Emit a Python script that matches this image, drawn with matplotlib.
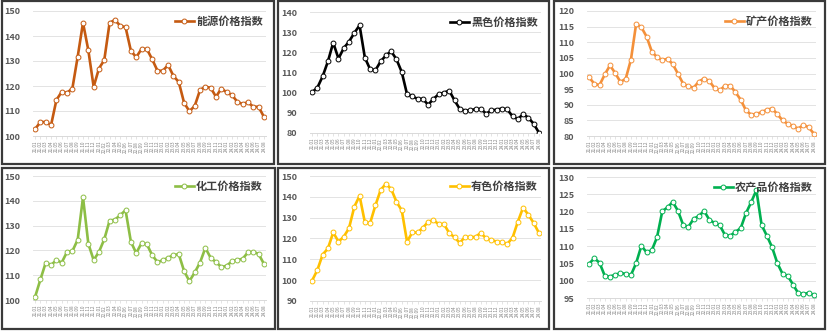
import matplotlib.pyplot as plt
from matplotlib.patches import Rectangle

plt.rcParams["font.family"] = ["Noto Sans CJK SC", "DejaVu Sans"]

# monthly labels 21.01 .. 24.08
months = [f"{y}.{m:02d}" for y in (21, 22, 23) for m in range(1, 13)] + \
         [f"24.{m:02d}" for m in range(1, 9)]

energy = [102.8, 105.6, 105.6, 104.4, 114.4, 117.7, 117.3, 119.0, 131.7, 145.3,
          134.3, 119.7, 127.0, 130.4, 145.3, 146.4, 144.1, 143.5, 134.1, 131.5,
          134.8, 134.8, 130.7, 126.1, 126.1, 128.4, 124.0, 121.6, 113.3, 109.9,
          112.0, 118.4, 119.7, 119.3, 115.7, 119.0, 117.5, 116.4, 113.7, 112.8,
          113.5, 111.7, 111.7, 107.7]

ferrous = [100.2, 102.5, 108.1, 115.5, 124.8, 116.9, 122.1, 125.3, 129.6, 133.4,
           117.4, 111.6, 111.1, 115.5, 118.5, 120.5, 116.5, 110.2, 99.2, 98.2,
           96.9, 96.9, 94.0, 96.9, 99.2, 100.0, 101.0, 96.2, 91.9, 91.1,
           91.2, 91.9, 91.9, 89.6, 91.2, 91.6, 92.1, 91.7, 88.3, 86.9,
           89.3, 87.6, 84.6, 80.2]

minerals = [98.8, 96.7, 96.3, 99.7, 102.6, 100.1, 97.3, 98.3, 104.4, 115.9,
            114.8, 111.8, 107.0, 105.2, 104.3, 104.7, 103.0, 99.9, 96.7, 95.9,
            95.5, 97.4, 98.4, 97.6, 95.3, 94.6, 96.1, 96.1, 94.0, 91.6,
            88.2, 86.8, 87.1, 87.6, 88.4, 88.8, 87.0, 85.0, 83.9, 83.1,
            82.4, 83.5, 82.8, 80.7]

chemical = [101.3, 108.3, 115.1, 114.1, 116.1, 115.1, 119.4, 119.7, 124.3, 141.4,
            122.7, 116.1, 119.4, 124.5, 132.0, 132.4, 134.2, 136.2, 123.5, 118.9,
            122.9, 122.5, 118.1, 115.3, 116.0, 117.0, 118.1, 118.5, 111.7, 107.6,
            111.1, 115.1, 121.0, 117.0, 115.3, 113.3, 113.8, 115.6, 116.2, 116.6,
            119.2, 119.4, 118.6, 114.6]

nonferrous = [99.8, 104.9, 112.3, 115.2, 122.9, 118.5, 120.8, 125.0, 135.2, 140.5,
              127.8, 127.4, 135.9, 143.3, 146.3, 143.7, 137.6, 133.5, 118.5, 122.9,
              122.9, 125.1, 128.0, 128.8, 126.9, 126.9, 122.6, 120.6, 117.9, 120.8,
              120.6, 120.8, 122.7, 120.0, 119.3, 118.5, 118.2, 117.4, 120.3, 128.0,
              134.8, 131.4, 127.5, 122.7]

agri = [104.9, 106.5, 105.2, 101.4, 101.2, 101.7, 102.2, 102.0, 101.6, 105.1,
        110.1, 108.2, 108.8, 112.6, 120.1, 121.2, 122.8, 120.2, 116.1, 115.6,
        117.9, 118.7, 120.2, 117.6, 116.7, 116.0, 113.2, 113.0, 114.1, 115.2,
        119.5, 122.7, 126.2, 116.1, 113.0, 109.7, 105.1, 102.0, 101.4, 98.9,
        96.4, 96.1, 96.5, 95.8]

W, H = 831, 334

# (name, values, colour, ymin, ymax, ystep, axes box in pixels: left, top, right, bottom)
panels = [
    ("能源价格指数", energy, "#C55A11", 100, 150, 10, (33, 11, 266, 136)),
    ("黑色价格指数", ferrous, "#000000", 80, 140, 10, (310, 12, 541, 133)),
    ("矿产价格指数", minerals, "#F4903A", 80, 120, 5, (587, 11, 816, 136)),
    ("化工价格指数", chemical, "#8DBE45", 100, 150, 10, (33, 176, 266, 300)),
    ("有色价格指数", nonferrous, "#FFC000", 90, 150, 10, (310, 176, 541, 301)),
    ("农产品价格指数", agri, "#00B050", 95, 130, 5, (587, 177, 816, 298)),
]

# outer frames around each chart
frames = [(2, 1, 274, 164), (278, 1, 549, 164), (554, 1, 825, 164),
          (2, 168, 275, 329), (278, 168, 549, 329), (554, 168, 825, 329)]

fig = plt.figure(figsize=(W / 100, H / 100), dpi=100)
fig.patch.set_facecolor("white")

for x0, y0, x1, y1 in frames:
    fig.patches.append(Rectangle((x0 / W, 1 - y1 / H), (x1 - x0) / W, (y1 - y0) / H,
                                 transform=fig.transFigure, fill=False,
                                 edgecolor="#3A3A3A", linewidth=1.6))

xs = list(range(len(months)))

for name, vals, color, ymin, ymax, ystep, (l, t, r, b) in panels:
    ax = fig.add_axes([l / W, 1 - b / H, (r - l) / W, (b - t) / H])
    ax.plot(xs, vals, color=color, linewidth=1.9, marker="o", markersize=3.5,
            markerfacecolor="white", markeredgecolor=color, markeredgewidth=0.7,
            label=name, zorder=3)
    ax.set_ylim(ymin, ymax)
    ax.set_xlim(-0.4, len(months) - 0.6)
    ax.set_yticks(range(ymin, ymax + 1, ystep))
    ax.grid(axis="y", color="#E3E3E3", linewidth=0.7)
    ax.set_axisbelow(True)
    for s in ("top", "right", "left"):
        ax.spines[s].set_visible(False)
    ax.spines["bottom"].set_color("#D9D9D9")
    ax.spines["bottom"].set_linewidth(0.7)
    ax.set_xticks(xs)
    ax.set_xticklabels(months, rotation=90, fontsize=3.3, color="#7F7F7F")
    ax.tick_params(axis="x", length=2, width=0.5, color="#D9D9D9", pad=1.5)
    ax.tick_params(axis="y", length=0, labelsize=6.5, labelcolor="#595959", pad=9)
    for lab in ax.get_yticklabels():
        lab.set_fontweight("bold")
    leg = ax.legend(loc="upper right", bbox_to_anchor=(1.02, 1.03), frameon=False,
                    handlelength=1.7, handletextpad=0.2, borderaxespad=0.3,
                    prop={"size": 8, "weight": "bold"})
    for txt in leg.get_texts():
        txt.set_color("#404040")

fig.savefig("out.png", dpi=100, facecolor="white")
